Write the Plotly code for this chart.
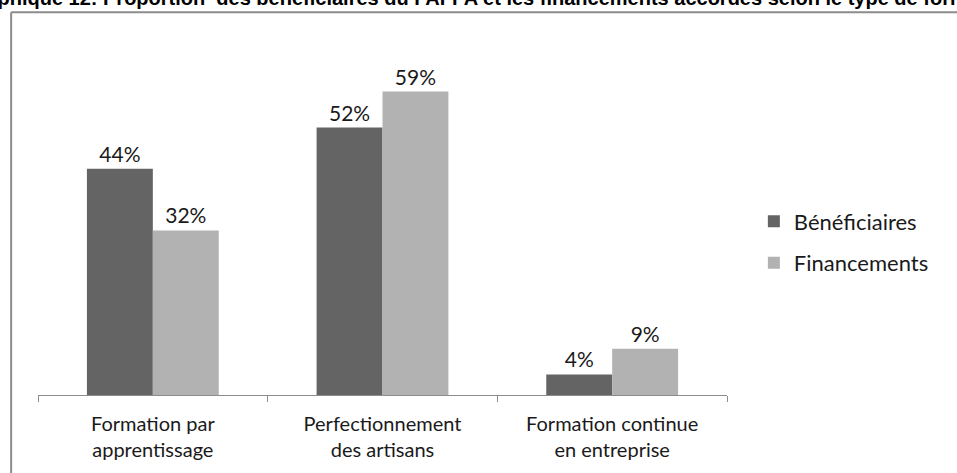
import plotly.graph_objects as go

categories = ["Formation par<br>apprentissage", "Perfectionnement<br>des artisans", "Formation continue<br>en entreprise"]
beneficiaires = [44, 52, 4]
financements = [32, 59, 9]
series_names = ["Bénéficiaires", "Financements"]
title_text = "Graphique 12: Proportion  des bénéficiaires du FAFPA et les financements accordés selon le type de formation"

base_font = "Lato, Open Sans, sans-serif"

fig = go.Figure()
for name, vals, color in [(series_names[0], beneficiaires, "#646464"),
                          (series_names[1], financements, "#b2b2b2")]:
    fig.add_trace(go.Bar(
        x=categories, y=vals, name=name, legendgroup=name,
        marker=dict(color=color, line=dict(width=0)),
        text=[f"{v}%" for v in vals], textposition="outside",
        textfont=dict(family=base_font, size=21, color="#1a1a1a"),
        cliponaxis=False,
    ))

fig.update_layout(
    width=957, height=473,
    margin=dict(l=38, r=230, t=35, b=75),
    plot_bgcolor="white", paper_bgcolor="white",
    barmode="group", bargap=0.426, bargroupgap=0,
    font=dict(family=base_font, size=18, color="#1a1a1a"),
    xaxis=dict(
        showline=True, linecolor="#8c8c8c", linewidth=1,
        ticks="outside", tickson="boundaries", ticklen=6, tickcolor="#8c8c8c",
        tickfont=dict(family=base_font, size=20, color="#1a1a1a"),
        ticklabelstandoff=11,
        showgrid=False,
    ),
    yaxis=dict(range=[0, 70], visible=False, showgrid=False),
    legend=dict(
        x=1.039, y=0.424, xanchor="left", yanchor="middle",
        traceorder="grouped", tracegroupgap=10,
        font=dict(family=base_font, size=22, color="#1a1a1a"),
    ),
    showlegend=True,
)

# frame around the chart (only left and top edges visible)
fig.add_shape(type="line", xref="paper", yref="paper",
              x0=-0.039, x1=1.5, y0=1.063, y1=1.063,
              line=dict(color="#8c8c8c", width=2))
fig.add_shape(type="line", xref="paper", yref="paper",
              x0=-0.039, x1=-0.039, y0=1.063, y1=-0.3,
              line=dict(color="#8c8c8c", width=2))

fig.add_annotation(
    text=f"<b>{title_text}</b>", xref="paper", yref="paper",
    x=-0.112, y=1.066, xanchor="left", yanchor="bottom", showarrow=False,
    font=dict(family="Liberation Sans Narrow, Arial Narrow, sans-serif", size=20, color="black"),
)

fig.write_html("out.html", config={"displayModeBar": False},
               post_script="document.body.style.margin='0';")
